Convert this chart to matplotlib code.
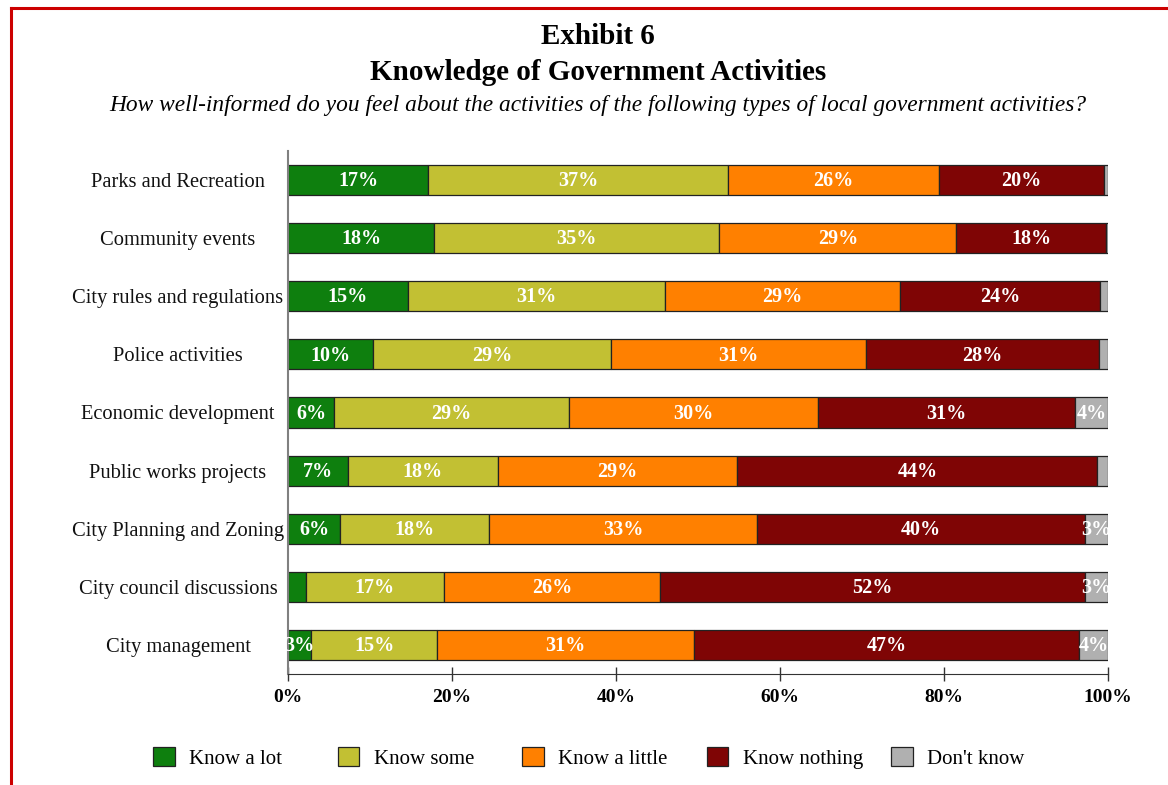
import numpy as np
import matplotlib
matplotlib.use("Agg")
import matplotlib.pyplot as plt
from matplotlib.lines import Line2D
from matplotlib.patches import Patch

plt.rcParams['font.family'] = ['Liberation Serif', 'DejaVu Serif']

# data (percent of respondents)
categories = ["Parks and Recreation", "Community events", "City rules and regulations",
              "Police activities", "Economic development", "Public works projects",
              "City Planning and Zoning", "City council discussions", "City management"]
series_names = ["Know a lot", "Know some", "Know a little", "Know nothing", "Don't know"]
know_lot = [17.1, 17.8, 14.6, 10.4, 5.6, 7.3, 6.4, 2.2, 2.8]
know_some = [36.6, 34.8, 31.4, 29.0, 28.7, 18.3, 18.1, 16.8, 15.4]
know_little = [25.7, 28.9, 28.6, 31.1, 30.3, 29.2, 32.7, 26.4, 31.3]
know_nothing = [20.1, 18.3, 24.4, 28.4, 31.4, 43.9, 40.0, 51.8, 47.0]
dont_know = [0.5, 0.2, 1.0, 1.1, 4.0, 1.3, 2.8, 2.8, 3.5]
tick_labels = ["0%", "20%", "40%", "60%", "80%", "100%"]

colors = ["#0e7f0e", "#c2c033", "#ff8000", "#7f0505", "#b0b0b0"]

fig = plt.figure(figsize=(11.68, 7.85), dpi=100)
ax = fig.add_axes([288 / 1168, 1 - 674 / 785, 820 / 1168, 523 / 785])

y = np.arange(len(categories))
left = np.zeros(len(categories))
for name, vals, col in zip(series_names,
                           [know_lot, know_some, know_little, know_nothing, dont_know],
                           colors):
    vals = np.array(vals)
    ax.barh(y, vals, left=left, height=0.52, color=col, edgecolor="#222222",
            linewidth=0.9, label=name)
    for yi, l, v in zip(y, left, vals):
        if v >= 2.5:
            ax.text(l + v / 2, yi + 0.02, "%d%%" % int(round(v)), ha="center", va="center",
                    color="white", fontsize=14.5, fontweight="bold")
    left += vals

ax.set_xlim(0, 100)
ax.set_ylim(8.5, -0.5)
ax.set_xticks([0, 20, 40, 60, 80, 100])
ax.set_xticklabels(tick_labels, fontsize=14, fontweight="bold")
ax.set_yticks(y)
ax.set_yticklabels(categories, fontsize=14.8, color="#111111")
for lab in ax.get_yticklabels():
    lab.set_horizontalalignment("center")
ax.tick_params(axis="y", length=0, pad=110 * 72 / 100)
ax.tick_params(axis="x", direction="inout", length=10, width=1, color="#333333", pad=6)

for s in ["top", "right"]:
    ax.spines[s].set_visible(False)
ax.spines["left"].set_color("#808080")
ax.spines["left"].set_linewidth(1.5)
ax.spines["bottom"].set_color("#333333")

fig.text(0.512, 1 - 37 / 785, "Exhibit 6", ha="center", va="center",
         fontsize=21, fontweight="bold")
fig.text(0.512, 1 - 73 / 785, "Knowledge of Government Activities", ha="center",
         va="center", fontsize=21, fontweight="bold")
fig.text(0.512, 1 - 106 / 785,
         "How well-informed do you feel about the activities of the following types of local government activities?",
         ha="center", va="center", fontsize=16.8, style="italic")

# legend: one entry per fixed slot, like the original
for i, (name, col) in enumerate(zip(series_names, colors)):
    h = Patch(facecolor=col, edgecolor="#222222", linewidth=0.9)
    leg = fig.legend(handles=[h], labels=[name], loc="center left",
                     bbox_to_anchor=((153 + 184.5 * i) / 1168, 1 - 758 / 785),
                     frameon=False, fontsize=15, handlelength=1.05, handleheight=1.05,
                     handletextpad=0.7, borderpad=0, borderaxespad=0)

# red frame
fig.add_artist(Line2D([11 / 1168, 1], [1 - 8 / 785, 1 - 8 / 785], color="#cc0000", lw=2.2))
fig.add_artist(Line2D([11 / 1168, 11 / 1168], [0, 1 - 8 / 785], color="#cc0000", lw=2.2))

fig.savefig("out.png", dpi=100)
